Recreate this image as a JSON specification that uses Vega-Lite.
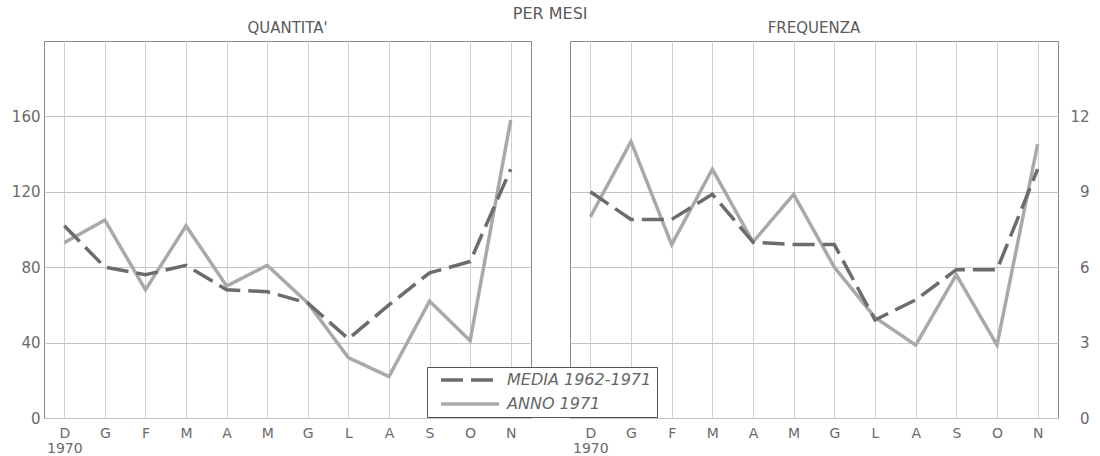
{
  "$schema": "https://vega.github.io/schema/vega-lite/v6.json",
  "background": "white",
  "padding": {"left": 10, "top": 5, "right": 5, "bottom": 0},
  "title": {"text": "PER MESI", "fontSize": 16, "font": "DejaVu Sans", "fontWeight": "normal", "color": "#5a5a5a", "anchor": "middle", "offset": -1},
  "data": {"values": [
    {"grafico": "QUANTITA'", "serie": "ANNO 1971", "mese": "dicembre 1970", "valore": 93},
    {"grafico": "QUANTITA'", "serie": "ANNO 1971", "mese": "gennaio", "valore": 105},
    {"grafico": "QUANTITA'", "serie": "ANNO 1971", "mese": "febbraio", "valore": 68},
    {"grafico": "QUANTITA'", "serie": "ANNO 1971", "mese": "marzo", "valore": 102},
    {"grafico": "QUANTITA'", "serie": "ANNO 1971", "mese": "aprile", "valore": 70},
    {"grafico": "QUANTITA'", "serie": "ANNO 1971", "mese": "maggio", "valore": 81},
    {"grafico": "QUANTITA'", "serie": "ANNO 1971", "mese": "giugno", "valore": 61},
    {"grafico": "QUANTITA'", "serie": "ANNO 1971", "mese": "luglio", "valore": 32},
    {"grafico": "QUANTITA'", "serie": "ANNO 1971", "mese": "agosto", "valore": 22},
    {"grafico": "QUANTITA'", "serie": "ANNO 1971", "mese": "settembre", "valore": 62},
    {"grafico": "QUANTITA'", "serie": "ANNO 1971", "mese": "ottobre", "valore": 41},
    {"grafico": "QUANTITA'", "serie": "ANNO 1971", "mese": "novembre", "valore": 158},
    {"grafico": "QUANTITA'", "serie": "MEDIA 1962-1971", "mese": "dicembre 1970", "valore": 102},
    {"grafico": "QUANTITA'", "serie": "MEDIA 1962-1971", "mese": "gennaio", "valore": 80},
    {"grafico": "QUANTITA'", "serie": "MEDIA 1962-1971", "mese": "febbraio", "valore": 76},
    {"grafico": "QUANTITA'", "serie": "MEDIA 1962-1971", "mese": "marzo", "valore": 81},
    {"grafico": "QUANTITA'", "serie": "MEDIA 1962-1971", "mese": "aprile", "valore": 68},
    {"grafico": "QUANTITA'", "serie": "MEDIA 1962-1971", "mese": "maggio", "valore": 67},
    {"grafico": "QUANTITA'", "serie": "MEDIA 1962-1971", "mese": "giugno", "valore": 61},
    {"grafico": "QUANTITA'", "serie": "MEDIA 1962-1971", "mese": "luglio", "valore": 42},
    {"grafico": "QUANTITA'", "serie": "MEDIA 1962-1971", "mese": "agosto", "valore": 60},
    {"grafico": "QUANTITA'", "serie": "MEDIA 1962-1971", "mese": "settembre", "valore": 77},
    {"grafico": "QUANTITA'", "serie": "MEDIA 1962-1971", "mese": "ottobre", "valore": 83},
    {"grafico": "QUANTITA'", "serie": "MEDIA 1962-1971", "mese": "novembre", "valore": 132},
    {"grafico": "FREQUENZA", "serie": "ANNO 1971", "mese": "dicembre 1970", "valore": 8},
    {"grafico": "FREQUENZA", "serie": "ANNO 1971", "mese": "gennaio", "valore": 11},
    {"grafico": "FREQUENZA", "serie": "ANNO 1971", "mese": "febbraio", "valore": 6.9},
    {"grafico": "FREQUENZA", "serie": "ANNO 1971", "mese": "marzo", "valore": 9.9},
    {"grafico": "FREQUENZA", "serie": "ANNO 1971", "mese": "aprile", "valore": 7},
    {"grafico": "FREQUENZA", "serie": "ANNO 1971", "mese": "maggio", "valore": 8.9},
    {"grafico": "FREQUENZA", "serie": "ANNO 1971", "mese": "giugno", "valore": 6},
    {"grafico": "FREQUENZA", "serie": "ANNO 1971", "mese": "luglio", "valore": 4},
    {"grafico": "FREQUENZA", "serie": "ANNO 1971", "mese": "agosto", "valore": 2.9},
    {"grafico": "FREQUENZA", "serie": "ANNO 1971", "mese": "settembre", "valore": 5.7},
    {"grafico": "FREQUENZA", "serie": "ANNO 1971", "mese": "ottobre", "valore": 2.9},
    {"grafico": "FREQUENZA", "serie": "ANNO 1971", "mese": "novembre", "valore": 10.9},
    {"grafico": "FREQUENZA", "serie": "MEDIA 1962-1971", "mese": "dicembre 1970", "valore": 9},
    {"grafico": "FREQUENZA", "serie": "MEDIA 1962-1971", "mese": "gennaio", "valore": 7.9},
    {"grafico": "FREQUENZA", "serie": "MEDIA 1962-1971", "mese": "febbraio", "valore": 7.9},
    {"grafico": "FREQUENZA", "serie": "MEDIA 1962-1971", "mese": "marzo", "valore": 8.9},
    {"grafico": "FREQUENZA", "serie": "MEDIA 1962-1971", "mese": "aprile", "valore": 7},
    {"grafico": "FREQUENZA", "serie": "MEDIA 1962-1971", "mese": "maggio", "valore": 6.9},
    {"grafico": "FREQUENZA", "serie": "MEDIA 1962-1971", "mese": "giugno", "valore": 6.9},
    {"grafico": "FREQUENZA", "serie": "MEDIA 1962-1971", "mese": "luglio", "valore": 3.9},
    {"grafico": "FREQUENZA", "serie": "MEDIA 1962-1971", "mese": "agosto", "valore": 4.7},
    {"grafico": "FREQUENZA", "serie": "MEDIA 1962-1971", "mese": "settembre", "valore": 5.9},
    {"grafico": "FREQUENZA", "serie": "MEDIA 1962-1971", "mese": "ottobre", "valore": 5.9},
    {"grafico": "FREQUENZA", "serie": "MEDIA 1962-1971", "mese": "novembre", "valore": 9.9}
  ]},
  "spacing": 37,
  "resolve": {"scale": {"x": "independent", "y": "independent", "color": "shared", "strokeDash": "shared"}, "legend": {"color": "shared", "strokeDash": "shared"}},
  "hconcat": [
    {
      "width": 487,
      "height": 377,
      "title": {"text": "QUANTITA'"},
      "transform": [{"filter": {"field": "grafico", "equal": "QUANTITA'"}}],
      "mark": {"type": "line", "strokeWidth": 3.5},
      "encoding": {
        "x": {"field": "mese", "type": "ordinal",
          "sort": ["dicembre 1970", "gennaio", "febbraio", "marzo", "aprile", "maggio", "giugno", "luglio", "agosto", "settembre", "ottobre", "novembre"],
          "scale": {"type": "point", "padding": 0.5},
          "axis": {"title": null, "labelAngle": 0, "labelExpr": "datum.value == 'dicembre 1970' ? ['D', '1970'] : upper(substring(datum.value, 0, 1))"}},
        "y": {"field": "valore", "type": "quantitative", "scale": {"domain": [0, 200], "nice": false},
          "axis": {"title": null, "orient": "left", "values": [0, 40, 80, 120, 160], "labelPadding": 4}},
        "color": {"field": "serie", "type": "nominal", "title": null,
          "scale": {"domain": ["MEDIA 1962-1971", "ANNO 1971"], "range": ["#6c6c6c", "#a9a9a9"]}},
        "strokeDash": {"field": "serie", "type": "nominal", "title": null,
          "scale": {"domain": ["MEDIA 1962-1971", "ANNO 1971"], "range": [[22, 8], [1, 0]]}}
      }
    },
    {
      "width": 488,
      "height": 377,
      "title": {"text": "FREQUENZA"},
      "transform": [{"filter": {"field": "grafico", "equal": "FREQUENZA"}}],
      "mark": {"type": "line", "strokeWidth": 3.5},
      "encoding": {
        "x": {"field": "mese", "type": "ordinal",
          "sort": ["dicembre 1970", "gennaio", "febbraio", "marzo", "aprile", "maggio", "giugno", "luglio", "agosto", "settembre", "ottobre", "novembre"],
          "scale": {"type": "point", "padding": 0.5},
          "axis": {"title": null, "labelAngle": 0, "labelExpr": "datum.value == 'dicembre 1970' ? ['D', '1970'] : upper(substring(datum.value, 0, 1))"}},
        "y": {"field": "valore", "type": "quantitative", "scale": {"domain": [0, 15], "nice": false},
          "axis": {"title": null, "orient": "right", "values": [0, 3, 6, 9, 12], "labelAlign": "right", "labelPadding": 31}},
        "color": {"field": "serie", "type": "nominal", "title": null,
          "scale": {"domain": ["MEDIA 1962-1971", "ANNO 1971"], "range": ["#6c6c6c", "#a9a9a9"]}},
        "strokeDash": {"field": "serie", "type": "nominal", "title": null,
          "scale": {"domain": ["MEDIA 1962-1971", "ANNO 1971"], "range": [[22, 8], [1, 0]]}}
      }
    }
  ],
  "config": {
    "font": "DejaVu Sans",
    "view": {"stroke": "#8a8a8a", "strokeWidth": 1},
    "title": {"fontSize": 15, "fontWeight": "normal", "color": "#5a5a5a", "font": "DejaVu Sans", "offset": 5},
    "axis": {"ticks": false, "domain": false, "grid": true, "gridColor": "#c4c4c4", "gridWidth": 1,
      "labelFont": "DejaVu Sans", "labelFontSize": 15, "labelColor": "#6a6a6a", "labelLineHeight": 15},
    "axisX": {"labelPadding": 8, "gridColor": "#d0d0d0", "labelFontSize": 14},
    "legend": {"orient": "none", "legendX": 383, "legendY": 326, "symbolType": "stroke", "symbolSize": 3364,
      "symbolStrokeWidth": 3.5, "clipHeight": 16, "rowPadding": 8, "padding": 5, "strokeColor": "#555",
      "fillColor": "white", "labelFont": "DejaVu Sans", "labelFontStyle": "italic", "labelFontSize": 16,
      "labelColor": "#666", "labelOffset": 6, "symbolOffset": 7, "labelLimit": 300}
  }
}
